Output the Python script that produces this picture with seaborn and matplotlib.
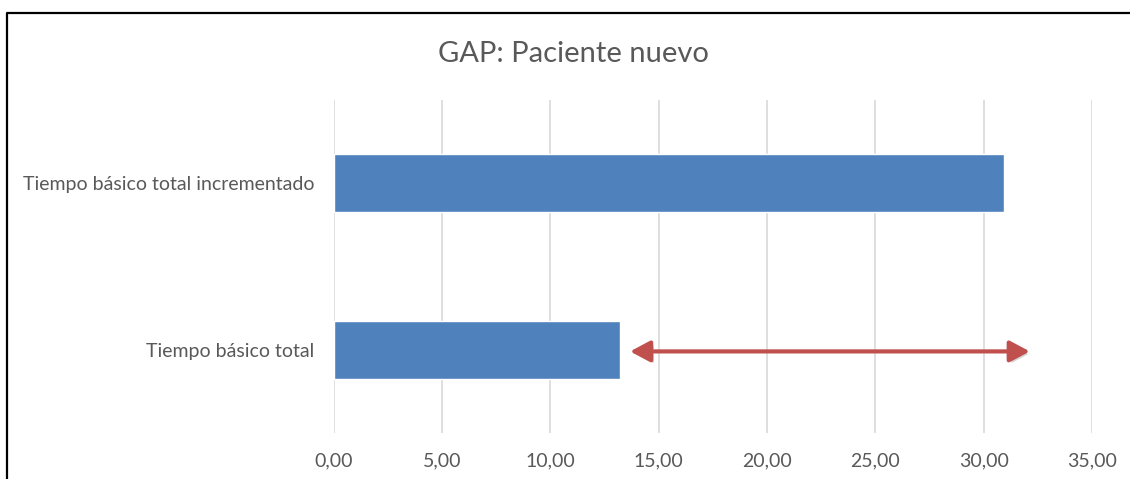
import matplotlib
matplotlib.use("Agg")
import matplotlib.pyplot as plt
import matplotlib.patheffects as pe
from matplotlib.lines import Line2D
import seaborn as sns
import pandas as pd

# Chart data
categories = ["Tiempo básico total incrementado", "Tiempo básico total"]
values = [30.96, 13.22]
gap_start = 13.68
gap_end = 32.13
x_ticks = [0, 5, 10, 15, 20, 25, 30, 35]
title = "GAP: Paciente nuevo"

sns.set_theme(style="white")
plt.rcParams["font.family"] = ["Lato", "DejaVu Sans"]

W, H = 1130, 479
fig = plt.figure(figsize=(W / 100, H / 100), dpi=100)
ax = fig.add_axes([333.7 / W, 1 - 433 / H, (1092 - 333.7) / W, (433 - 100) / H])

df = pd.DataFrame({"categoria": categories, "valor": values})
sns.barplot(data=df, x="valor", y="categoria", orient="h", color="#4F81BD",
            saturation=1, width=0.35, ax=ax, zorder=3)

ax.set_xlim(0, 35)
ax.set_ylim(1.5, -0.5)
ax.set_xticks(x_ticks)
ax.set_xticklabels([f"{t:.2f}".replace(".", ",") for t in x_ticks])
ax.set_xlabel("")
ax.set_ylabel("")
for s in ax.spines.values():
    s.set_visible(False)
ax.grid(axis="x", color="#D9D9D9", linewidth=1.2, zorder=0)
ax.grid(axis="y", visible=False)
ax.tick_params(axis="both", length=0, colors="#595959")
ax.tick_params(axis="x", pad=14, labelsize=14)
ax.tick_params(axis="y", pad=14, labelsize=14)

# Double-headed arrow marking the gap between both totals
arrow_kw = dict(arrowstyle="<|-|>,head_length=0.6,head_width=0.32",
                lw=3.0, shrinkA=0, shrinkB=0, mutation_scale=20)
ax.annotate("", xy=(gap_end, 1.01), xytext=(gap_start, 1.01),
            arrowprops=dict(color="#C0504D", **arrow_kw,
                            path_effects=[pe.SimplePatchShadow(offset=(2, -2), shadow_rgbFace="#888888", alpha=0.35),
                                          pe.Normal()]),
            zorder=5)

fig.text(573 / W, 1 - 54 / H, title, ha="center", va="center",
         fontsize=21, color="#595959")

# Outer frame
fig.add_artist(Line2D([7 / W, 7 / W, 1.0], [0.0, 1 - 13 / H, 1 - 13 / H],
                      transform=fig.transFigure, color="black", lw=1.6))

fig.savefig("out.png", dpi=100)
